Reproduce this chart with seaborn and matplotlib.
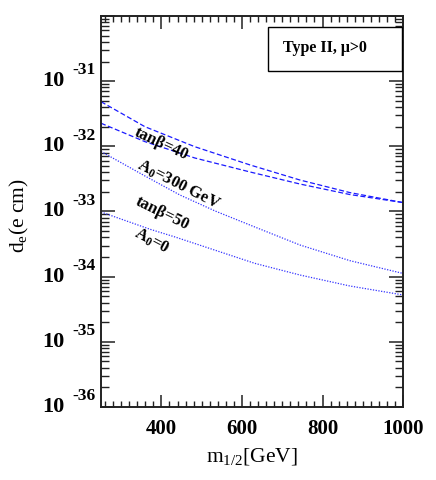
import numpy as np
import pandas as pd
import matplotlib
matplotlib.use("Agg")
import matplotlib.pyplot as plt
import matplotlib.ticker as mticker
from matplotlib.patches import Rectangle
import seaborn as sns

# ---- data ----
m_tb40_A300 = [250, 359, 483, 620, 744, 868, 1000]
de_tb40_A300 = [4.84e-32, 2.00e-32, 9.86e-33, 5.18e-33, 3.04e-33, 1.95e-33, 1.37e-33]
m_tb40_A0 = [250, 359, 483, 620, 744, 868, 1000]
de_tb40_A0 = [2.26e-32, 1.18e-32, 6.62e-33, 4.04e-33, 2.64e-33, 1.82e-33, 1.37e-33]
m_tb50_A300 = [250, 359, 446, 533, 632, 744, 868, 1000]
de_tb50_A300 = [8.34e-33, 3.51e-33, 1.79e-33, 1.02e-33, 5.78e-34, 3.06e-34, 1.76e-34, 1.12e-34]
m_tb50_A0 = [250, 372, 434, 632, 744, 868, 1000]
de_tb50_A0 = [9.82e-34, 5.33e-34, 4.06e-34, 1.60e-34, 1.06e-34, 7.19e-35, 5.24e-35]

x_ticks = [400, 600, 800, 1000]
y_decades = [-36, -35, -34, -33, -32, -31]

sns.set_style("white")
plt.rcParams['font.family'] = ['Liberation Serif', 'DejaVu Serif']
plt.rcParams['mathtext.fontset'] = 'custom'
plt.rcParams['mathtext.rm'] = 'Liberation Serif'
plt.rcParams['mathtext.it'] = 'Liberation Serif:italic'
plt.rcParams['mathtext.bf'] = 'Liberation Serif:bold'
for k in ['text.color', 'axes.labelcolor', 'xtick.color', 'ytick.color']:
    plt.rcParams[k] = 'black'

fig = plt.figure(figsize=(4.36, 4.80), dpi=100)
ax = fig.add_axes([0.2317, 0.1521, 0.6927, 0.8146])

series = [
    (m_tb40_A300, de_tb40_A300, (4, 2), '#1a1aff'),
    (m_tb40_A0, de_tb40_A0, (4, 2), '#1a1aff'),
    (m_tb50_A300, de_tb50_A300, (1, 1.2), '#3333ff'),
    (m_tb50_A0, de_tb50_A0, (1, 1.2), '#3333ff'),
]
for mx, dy, dash, col in series:
    df = pd.DataFrame({'m': mx, 'de': dy})
    sns.lineplot(data=df, x='m', y='de', ax=ax, color=col, lw=0.9,
                 estimator=None, sort=False, dashes=False)
    ax.lines[-1].set_dashes(dash)

ax.set_yscale('log')
ax.set_xlim(250, 1000)
ax.set_ylim(1e-36, 1e-30)
ax.set_xlabel("")
ax.set_ylabel("")

ax.xaxis.set_major_locator(mticker.FixedLocator(x_ticks))
ax.xaxis.set_minor_locator(mticker.MultipleLocator(20))
ax.yaxis.set_major_locator(mticker.LogLocator(base=10, numticks=20))
ax.yaxis.set_minor_locator(mticker.LogLocator(base=10, subs=np.arange(2, 10), numticks=100))
ax.yaxis.set_minor_formatter(mticker.NullFormatter())
ax.yaxis.set_major_formatter(mticker.NullFormatter())
ax.set_xticklabels([str(v) for v in x_ticks], fontsize=15, fontweight='bold')

ax.tick_params(which='both', direction='in', top=True, right=True, left=True, bottom=True,
               color='#222222')
ax.tick_params(axis='y', which='major', length=10, width=1.1)
ax.tick_params(axis='y', which='minor', length=5.5, width=1.0)
ax.tick_params(axis='x', which='major', length=9, width=1.1, pad=9)
ax.tick_params(axis='x', which='minor', length=4.5, width=1.0)
for sp in ax.spines.values():
    sp.set_linewidth(1.4)
    sp.set_color('#222222')

# y tick labels in ROOT style
ytr = ax.get_yaxis_transform()
for d in y_decades:
    ax.text(-0.159, 10.0 ** d, "10", transform=ytr, ha='center', va='center',
            fontsize=16, fontweight='bold', clip_on=False)
    ax.text(-0.056, 10.0 ** (d + 0.165), str(d), transform=ytr, ha='center', va='center',
            fontsize=12.5, fontweight='bold', clip_on=False)

ax.set_xlabel(r"m$_{1/2}$[GeV]", fontsize=15.5, labelpad=5)
ax.set_ylabel(r"d$_{\rm e}$(e cm)", fontsize=15.5)
ax.yaxis.set_label_coords(-0.232, 0.49)

# legend box
ax.add_patch(Rectangle((0.553, 0.859), 0.444, 0.113, transform=ax.transAxes,
                       facecolor='white', edgecolor='black', lw=1.0, zorder=5))
ax.text(0.742, 0.917, "Type II, μ>0", transform=ax.transAxes, ha='center', va='center',
        fontsize=11.5, fontweight='bold', zorder=6)

# curve labels
ax.text(0.199, 0.673, "tanβ=40", transform=ax.transAxes, rotation=-25,
        ha='center', va='center', fontsize=12, fontweight='bold', rotation_mode='anchor')
ax.text(0.255, 0.568, r"A$_{\mathbf{0}}$=300 GeV", transform=ax.transAxes, rotation=-27,
        ha='center', va='center', fontsize=12, fontweight='bold', rotation_mode='anchor')
ax.text(0.202, 0.494, "tanβ=50", transform=ax.transAxes, rotation=-26,
        ha='center', va='center', fontsize=12, fontweight='bold', rotation_mode='anchor')
ax.text(0.169, 0.424, r"A$_{\mathbf{0}}$=0", transform=ax.transAxes, rotation=-28,
        ha='center', va='center', fontsize=12, fontweight='bold', rotation_mode='anchor')

fig.savefig("out.png", dpi=100)
